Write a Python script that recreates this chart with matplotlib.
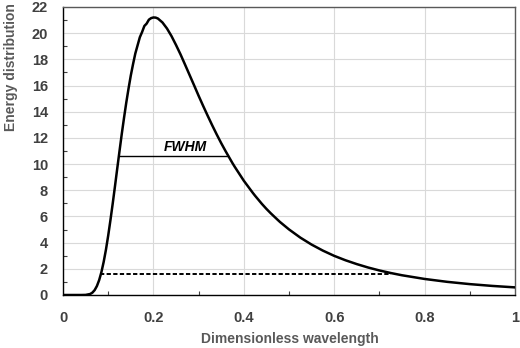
import matplotlib
matplotlib.use("Agg")
import matplotlib.pyplot as plt
from matplotlib.ticker import MultipleLocator

plt.rcParams['font.family'] = ['Liberation Sans', 'DejaVu Sans']

# Energy distribution
wavelength = [0.0, 0.04, 0.05, 0.06, 0.065, 0.07, 0.075, 0.08, 0.085, 0.09, 0.095,
              0.10, 0.105, 0.11, 0.115, 0.12, 0.125, 0.13, 0.135, 0.14, 0.145,
              0.15, 0.155, 0.16, 0.165, 0.17, 0.175, 0.18, 0.185, 0.19, 0.195,
              0.20, 0.205, 0.21, 0.22, 0.23, 0.24, 0.25, 0.26, 0.27, 0.28,
              0.29, 0.30, 0.31, 0.32, 0.33, 0.34, 0.35, 0.36, 0.375, 0.38,
              0.40, 0.42, 0.425, 0.44, 0.45, 0.46, 0.475, 0.48, 0.50, 0.525,
              0.55, 0.575, 0.60, 0.625, 0.65, 0.675, 0.70, 0.725,
              0.75, 0.80, 0.85, 0.90, 0.95, 1.00]
energy = [0.0, 0.0, 0.007, 0.074, 0.18, 0.372, 0.683, 1.137, 1.75, 2.53, 3.46,
          4.54, 5.73, 6.99, 8.31, 9.66, 10.99, 12.30, 13.53, 14.70, 15.77,
          16.77, 17.64, 18.45, 19.07, 19.69, 20.09, 20.55, 20.73, 21.03, 21.15,
          21.20, 21.19, 21.12, 20.82, 20.36, 19.78, 19.10, 18.38, 17.60, 16.81,
          16.02, 15.22, 14.45, 13.70, 12.97, 12.27, 11.60, 10.97, 10.07, 9.79,
          8.73, 7.80, 7.58, 6.96, 6.58, 6.23, 5.74, 5.58, 5.01, 4.385,
          3.85, 3.39, 2.99, 2.653, 2.36, 2.10, 1.875, 1.680,
          1.508, 1.226, 1.005, 0.831, 0.693, 0.582]

fwhm_x = [0.126, 0.366]
fwhm_y = [10.64, 10.64]
dash_x = [0.082, 0.725]
dash_y = [1.58, 1.58]

fig = plt.figure(figsize=(5.2, 3.48), dpi=100)
ax = fig.add_axes([63 / 520, 1 - 295 / 348, 452 / 520, 288 / 348])

ax.plot(wavelength, energy, color="black", lw=1.8, solid_capstyle="round",
        solid_joinstyle="round", zorder=3)
ax.plot(fwhm_x, fwhm_y, color="black", lw=1.0, zorder=3)
ax.plot(dash_x, dash_y, color="black", lw=1.4, ls=(0, (2.2, 1.2)), zorder=3)
ax.text(0.27, 11.3, "FWHM", fontsize=10, fontweight="bold", fontstyle="italic",
        ha="center", va="center", color="black")

ax.set_xlim(0, 1)
ax.set_ylim(0, 22)
ax.xaxis.set_minor_locator(MultipleLocator(0.1))
ax.yaxis.set_major_locator(MultipleLocator(2))
ax.yaxis.set_minor_locator(MultipleLocator(1))
ax.set_xticks([0, 0.2, 0.4, 0.6, 0.8, 1.0])
ax.set_xticklabels(["0", "0.2", "0.4", "0.6", "0.8", "1"])

ax.grid(True, which="major", color="#d9d9d9", lw=0.8)
ax.set_axisbelow(True)
for s in ax.spines.values():
    s.set_color("#595959")
    s.set_linewidth(1.0)
ax.spines["bottom"].set_color("black")
ax.spines["left"].set_color("black")

ax.tick_params(which="major", length=0, labelsize=10.5, labelcolor="#404040")
ax.tick_params(axis="x", which="major", pad=11.5)
ax.tick_params(axis="y", which="major", pad=10.8)
ax.tick_params(which="minor", length=3, width=0.8, direction="in", color="#404040")
for lab in ax.get_xticklabels() + ax.get_yticklabels():
    lab.set_fontweight("bold")

fig.text(290 / 520, 1 - 339 / 348, "Dimensionless wavelength", fontsize=10,
         fontweight="bold", color="#595959", ha="center", va="center")
fig.text(11 / 520, 1 - 67 / 348, "Energy distribution", fontsize=10,
         fontweight="bold", color="#595959", ha="center", va="center", rotation=90)

fig.savefig("out.png", dpi=100)
